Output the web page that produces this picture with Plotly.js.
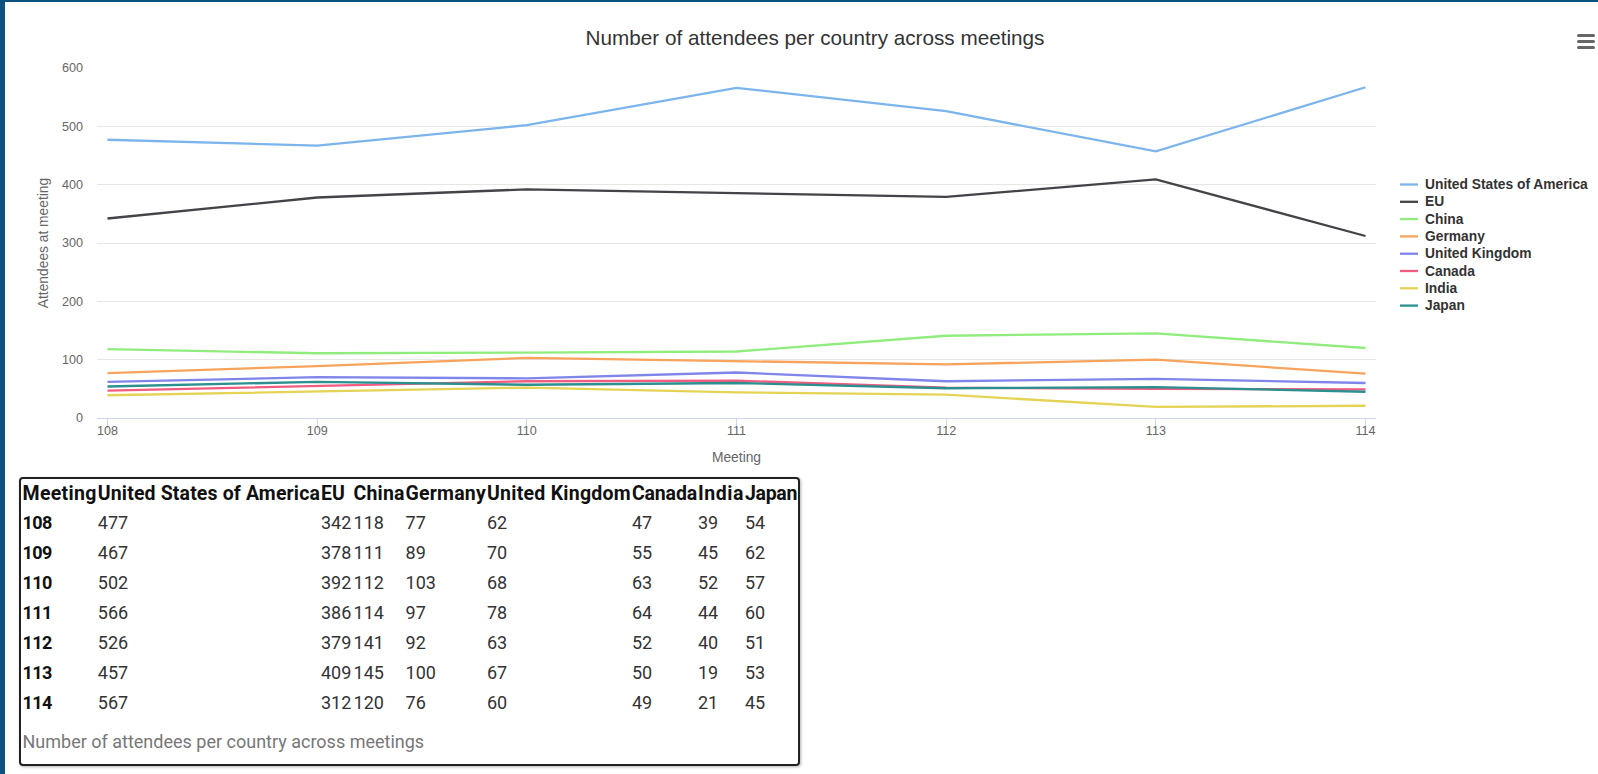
<!DOCTYPE html>
<html>
<head>
<meta charset="utf-8">
<script src="https://cdn.plot.ly/plotly-3.0.1.min.js"></script>
<style>
  html, body { margin: 0; padding: 0; width: 1598px; height: 774px; overflow: hidden; background: #0b5281; }
  #sheet { position: absolute; left: 5px; top: 2px; right: 0; bottom: 0; background: #ffffff; }
  #chart { position: absolute; left: 0; top: 0; width: 1598px; height: 490px; }
  #menu { position: absolute; left: 1577px; top: 34px; width: 18px; }
  #menu span { display: block; height: 3px; background: #666666; border-radius: 1.5px; margin-bottom: 3px; }
  #tablebox {
    position: absolute; left: 19px; top: 477px; width: 777px; height: 285px;
    border: 2px solid #222222; border-radius: 4px; box-shadow: 1px 1px 3px rgba(0,0,0,0.3);
    font-family: Roboto, "Open Sans", sans-serif; font-size: 18px; color: #333333;
  }
  #datatable { border-collapse: collapse; table-layout: fixed; margin-left: 1.5px; }
  #datatable th, #datatable td { padding: 0; text-align: left; white-space: nowrap; overflow: visible; }
  #datatable thead th { height: 28px; color: #111111; font-weight: 700; font-size: 19.5px; }
  #datatable tbody tr { height: 30px; }
  #datatable tbody th { color: #111111; font-weight: 700; letter-spacing: -0.6px; }
  #caption { position: absolute; left: 1.5px; top: 252px; color: #777777; font-size: 18px; }
</style>
</head>
<body>
<div id="sheet"></div>
<div id="tablebox">
  <table id="datatable"><colgroup id="cols"></colgroup><thead></thead><tbody></tbody></table>
  <div id="caption"></div>
</div>
<div id="chart"></div>
<div id="menu"><span></span><span></span><span></span></div>
<script>
// Meetings and attendee counts per country
const meetings = [108, 109, 110, 111, 112, 113, 114];
const countries = ["United States of America", "EU", "China", "Germany", "United Kingdom", "Canada", "India", "Japan"];
const usa     = [477, 467, 502, 566, 526, 457, 567];
const eu      = [342, 378, 392, 386, 379, 409, 312];
const china   = [118, 111, 112, 114, 141, 145, 120];
const germany = [77, 89, 103, 97, 92, 100, 76];
const uk      = [62, 70, 68, 78, 63, 67, 60];
const canada  = [47, 55, 63, 64, 52, 50, 49];
const india   = [39, 45, 52, 44, 40, 19, 21];
const japan   = [54, 62, 57, 60, 51, 53, 45];
const seriesValues = [usa, eu, china, germany, uk, canada, india, japan];
const yTicks = [0, 100, 200, 300, 400, 500, 600];

const chartTitle = "Number of attendees per country across meetings";
const colors = ["#7cb5ec", "#434348", "#90ed7d", "#f7a35c", "#8085e9", "#f15c80", "#e4d354", "#2b908f"];
const baseFont = '"Liberation Sans", Arial, Helvetica, sans-serif';

const traces = countries.map((name, i) => ({
  type: "scatter",
  mode: "lines",
  name: name,
  x: meetings,
  y: seriesValues[i],
  line: { color: colors[i], width: 2.3 },
  showlegend: false,
  hoverinfo: "x+y+name"
}));

// Plot box in page pixels
const H = 490;
const plotLeft = 97, plotRight = 1376, plotTop = 68, plotBottom = 418;
const pw = plotRight - plotLeft, ph = plotBottom - plotTop;
const px2x = p => (p - plotLeft) / pw;
const px2y = p => (plotBottom - p) / ph;

// Legend on the right: short line swatch plus bold label per series
const legendTop = 184.5, legendStep = 17.3;
const legendShapes = countries.map((name, i) => ({
  type: "line", xref: "paper", yref: "paper",
  x0: px2x(1400), x1: px2x(1418),
  y0: px2y(legendTop + i * legendStep), y1: px2y(legendTop + i * legendStep),
  line: { color: colors[i], width: 2.3 }
}));
const legendLabels = countries.map((name, i) => ({
  xref: "paper", yref: "paper",
  x: px2x(1423), y: px2y(legendTop + i * legendStep),
  xanchor: "left", yanchor: "middle",
  text: "<b>" + name + "</b>",
  showarrow: false,
  font: { family: baseFont, size: 13.8, color: "#333333" }
}));

const layout = {
  width: 1598,
  height: H,
  paper_bgcolor: "rgba(0,0,0,0)",
  plot_bgcolor: "rgba(0,0,0,0)",
  margin: { l: plotLeft, r: 1598 - plotRight, t: plotTop, b: H - plotBottom },
  font: { family: baseFont, color: "#666666", size: 12.6 },
  title: {
    text: chartTitle,
    font: { family: baseFont, size: 20.7, color: "#333333" },
    xref: "container", x: 815 / 1598, xanchor: "center",
    yref: "container", y: 1 - 38 / H, yanchor: "middle"
  },
  xaxis: {
    range: [107.95, 114.05],
    tickvals: meetings,
    ticktext: meetings.map(String),
    showgrid: false,
    zeroline: false,
    showline: true, linecolor: "#ccd6eb", linewidth: 1,
    ticks: "outside", ticklen: 10, tickcolor: "#ccd6eb", tickwidth: 1,
    ticklabelstandoff: -9,
    tickfont: { size: 12.6, color: "#666666" },
    title: { text: "Meeting", font: { size: 13.8, color: "#666666" }, standoff: 15 },
    automargin: true,
    fixedrange: true
  },
  yaxis: {
    range: [0, 600],
    tickvals: yTicks,
    showgrid: true, gridcolor: "#e6e6e6", gridwidth: 1.15,
    zeroline: false,
    showline: false,
    ticks: "",
    ticklabelstandoff: 13,
    tickfont: { size: 12.6, color: "#666666" },
    title: { text: "Attendees at meeting", font: { size: 13.8, color: "#666666" }, standoff: 10 },
    automargin: true,
    fixedrange: true
  },
  shapes: legendShapes,
  annotations: legendLabels,
  showlegend: false,
  hovermode: "closest"
};

Plotly.newPlot("chart", traces, layout, { displayModeBar: false, responsive: false });

// Data table under the chart, built from the same arrays
const colWidths = [75.3, 223.2, 32.6, 52, 81.4, 145, 66, 47, 53];
const cols = document.getElementById("cols");
colWidths.forEach(w => {
  const c = document.createElement("col");
  c.style.width = w + "px";
  cols.appendChild(c);
});
const thead = document.querySelector("#datatable thead");
const hr = document.createElement("tr");
const headerSpans = [];
["Meeting"].concat(countries).forEach(h => {
  const th = document.createElement("th");
  const span = document.createElement("span");
  span.textContent = h;
  th.appendChild(span);
  hr.appendChild(th);
  headerSpans.push(span);
});
thead.appendChild(hr);
const tbody = document.querySelector("#datatable tbody");
meetings.forEach((m, r) => {
  const tr = document.createElement("tr");
  const th = document.createElement("th");
  th.textContent = m;
  tr.appendChild(th);
  seriesValues.forEach(vals => {
    const td = document.createElement("td");
    td.textContent = vals[r];
    tr.appendChild(td);
  });
  tbody.appendChild(tr);
});
document.getElementById("caption").textContent = chartTitle;

// Headings that set their column's width fill it edge to edge
headerSpans.forEach((span, i) => {
  const w = span.getBoundingClientRect().width;
  const n = span.textContent.length;
  const target = colWidths[i] - 1;
  if (w > 0.85 * target) {
    span.style.letterSpacing = ((target - w) / n).toFixed(2) + "px";
  }
});
</script>
</body>
</html>
